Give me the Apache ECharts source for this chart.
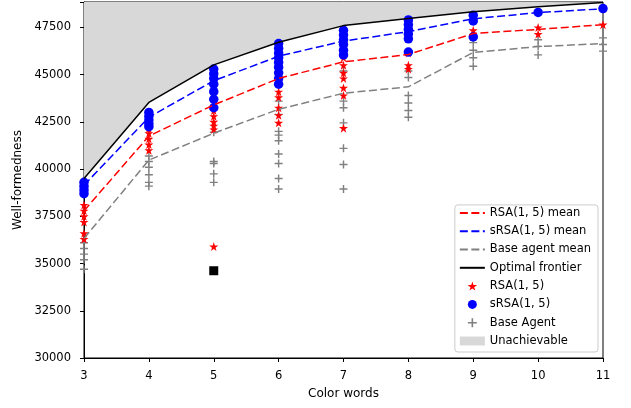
<!DOCTYPE html>
<html>
<head>
<meta charset="utf-8">
<script src="https://cdn.jsdelivr.net/npm/echarts@6/dist/echarts.min.js"></script>
<style>html,body{margin:0;padding:0;background:#fff}#c{width:631px;height:408px}</style>
</head>
<body>
<div id="c"></div>
<script>
// x categories (number of color words)
const colorWords = [3, 4, 5, 6, 7, 8, 9, 10, 11];
// mean lines
const rsaMean   = [37800, 41750, 43400, 44800, 45680, 46070, 47180, 47400, 47650];
const srsaMean  = [39150, 42750, 44680, 45980, 46780, 47280, 47960, 48290, 48490];
const baseMean  = [36330, 40480, 41900, 43170, 44020, 44360, 46180, 46490, 46650];
const frontier  = [39500, 43530, 45520, 46720, 47600, 47980, 48330, 48600, 48820];
// individual runs (one list per x in colorWords)
const rsaRuns = [
  [38100, 37800, 37500, 37200, 36600, 36300],
  [42150, 41900, 41600, 41300, 41000],
  [43100, 42800, 42500, 42300, 42100, 35900],
  [44100, 43800, 43250, 42850, 42450],
  [45900, 45500, 45100, 44800, 44300, 43900, 42170],
  [46150, 45500, 45300],
  [47350, 47050],
  [47500, 47150],
  [47650]
];
const srsaRuns = [
  [39300, 39100, 38900, 38700],
  [43000, 42800, 42600, 42400, 42250],
  [45300, 45050, 44800, 44500, 44100, 43700, 43250],
  [46650, 46400, 46150, 45900, 45650, 45400, 45100, 44800, 44500],
  [47350, 47100, 46850, 46600, 46300, 46050],
  [47900, 47650, 47400, 47150, 46900, 46200],
  [48150, 47850, 47000],
  [48300],
  [48500]
];
const baseRuns = [
  [36100, 35800, 35500, 35200, 34700],
  [40700, 40400, 40100, 39700, 39300, 39100],
  [41950, 40400, 40300, 39750, 39300],
  [43600, 42900, 42000, 41800, 41500, 40800, 40300, 39500, 38950],
  [45200, 43600, 43250, 42450, 41100, 40250, 38950],
  [45200, 44850, 43900, 43500, 43100, 42750],
  [46700, 46300, 45900, 45450],
  [46850, 46500, 46050],
  [46950, 46600, 46250]
];
const squarePoint = [[5, 34620]];
const yTicks = [30000, 32500, 35000, 37500, 40000, 42500, 45000, 47500];
const yMin = 30000, yMax = 48850;

const pair = arr => colorWords.map((x, i) => [x, arr[i]]);
const flat = runs => runs.flatMap((vals, i) => vals.map(v => [colorWords[i], v]));

const STAR = 'path://M50,0 L61.8,35.5 L98.9,35.5 L69,57.4 L80.4,93 L50,71 L19.6,93 L31,57.4 L1.1,35.5 L38.2,35.5 Z';
const PLUS = 'path://M41,0 H59 V41 H100 V59 H59 V100 H41 V59 H0 V41 H41 Z';
const FONT = 'DejaVu Sans';
const dash = [8, 3.5];
const hideSym = {opacity: 0};

const chart = echarts.init(document.getElementById('c'), null, {renderer: 'canvas'});
chart.setOption({
  animation: false,
  backgroundColor: '#fff',
  grid: {left: 84, right: 28, top: 2, bottom: 50, show: true, borderColor: '#000', borderWidth: 1, backgroundColor: 'transparent'},
  xAxis: {
    type: 'value', min: 3, max: 11, interval: 1,
    name: 'Color words', nameLocation: 'middle', nameGap: 30,
    nameTextStyle: {fontFamily: FONT, fontSize: 12, color: '#000'},
    axisLine: {lineStyle: {color: '#000', width: 1}},
    axisTick: {show: true, inside: false, length: 4, lineStyle: {color: '#000'}},
    axisLabel: {fontFamily: FONT, fontSize: 11.5, color: '#000', margin: 12},
    splitLine: {show: false}
  },
  yAxis: {
    type: 'value', min: yMin, max: yMax, interval: 2500,
    name: 'Well-formedness', nameLocation: 'middle', nameGap: 53.5,
    nameTextStyle: {fontFamily: FONT, fontSize: 12, color: '#000'},
    axisLine: {show: true, lineStyle: {color: '#000', width: 1}},
    axisTick: {show: true, inside: false, length: 4, lineStyle: {color: '#000'}},
    axisLabel: {fontFamily: FONT, fontSize: 11.5, color: '#000', margin: 13,
      formatter: v => yTicks.includes(v) ? String(v) : ''},
    splitLine: {show: false}
  },
  legend: {
    orient: 'vertical', right: 33, bottom: 56,
    backgroundColor: '#fff', borderColor: '#ccc', borderWidth: 1, borderRadius: 3,
    padding: [2, 7, 5, 4], itemWidth: 25, itemHeight: 9, itemGap: 6.3,
    textStyle: {fontFamily: FONT, fontSize: 11.5, color: '#000'},
    data: [
      {name: 'RSA(1, 5) mean', itemStyle: hideSym},
      {name: 'sRSA(1, 5) mean', itemStyle: hideSym},
      {name: 'Base agent mean', itemStyle: hideSym},
      {name: 'Optimal frontier', itemStyle: hideSym},
      {name: 'RSA(1, 5)'}, {name: 'sRSA(1, 5)'},
      {name: 'Base Agent'}, {name: 'Unachievable', icon: 'rect'}
    ]
  },
  series: [
    {name: 'Unachievable', type: 'line', data: pair(frontier), symbol: 'none', z: 1,
     lineStyle: {width: 0, opacity: 0}, itemStyle: {color: '#d8d8d8'},
     areaStyle: {origin: 'end', color: '#d8d8d8', opacity: 1}},
    {name: 'Base Agent', type: 'scatter', data: flat(baseRuns), symbol: PLUS, symbolSize: 8, z: 3,
     itemStyle: {color: '#808080', opacity: 1}},
    {name: 'RSA(1, 5)', type: 'scatter', data: flat(rsaRuns), symbol: STAR, symbolSize: 9, z: 4,
     itemStyle: {color: '#ff0000', opacity: 1}},
    {name: 'sRSA(1, 5)', type: 'scatter', data: flat(srsaRuns), symbol: 'circle', symbolSize: 9.5, z: 5,
     itemStyle: {color: '#0000ff', opacity: 1}},
    {name: 'outlier', type: 'scatter', data: squarePoint, symbol: 'rect', symbolSize: 9, z: 5,
     itemStyle: {color: '#000', opacity: 1}},
    {name: 'RSA(1, 5) mean', type: 'line', data: pair(rsaMean), symbol: 'none', z: 6,
     lineStyle: {color: '#ff0000', width: 1.5, type: dash}, itemStyle: {color: '#ff0000'}},
    {name: 'sRSA(1, 5) mean', type: 'line', data: pair(srsaMean), symbol: 'none', z: 6,
     lineStyle: {color: '#0000ff', width: 1.5, type: dash}, itemStyle: {color: '#0000ff'}},
    {name: 'Base agent mean', type: 'line', data: pair(baseMean), symbol: 'none', z: 6,
     lineStyle: {color: '#808080', width: 1.5, type: dash}, itemStyle: {color: '#808080'}},
    {name: 'Optimal frontier', type: 'line', data: pair(frontier), symbol: 'none', z: 7,
     lineStyle: {color: '#000', width: 1.5}, itemStyle: {color: '#000'}}
  ]
});
</script>
</body>
</html>
